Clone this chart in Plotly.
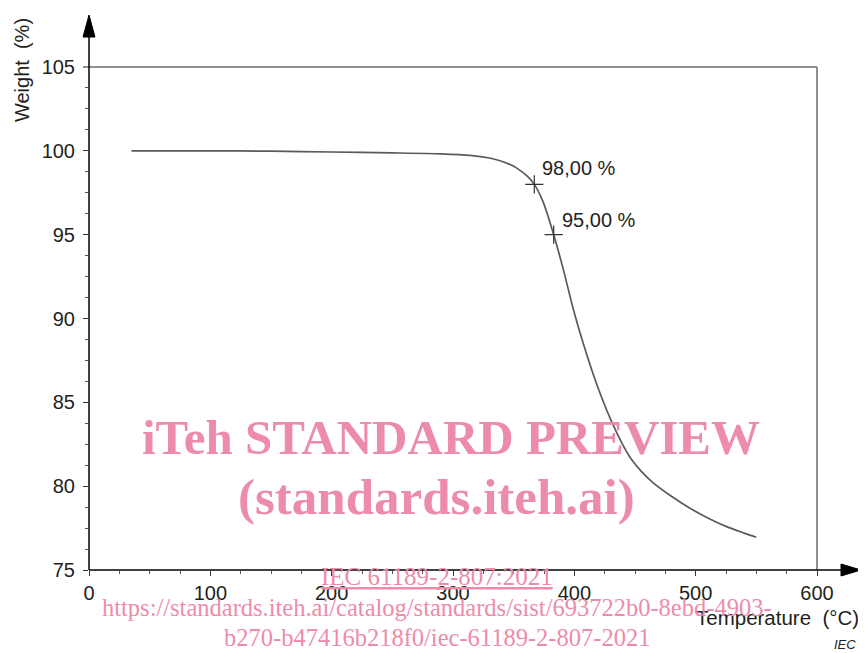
import plotly.graph_objects as go

# ---- data ----
temperature = [35, 100, 150, 200, 250, 290, 314, 330, 340, 350, 355, 361, 367, 374, 383, 391,
               399, 407, 415, 423, 431, 439, 447, 455, 465, 480, 495, 510, 525, 540, 550]
weight = [100.0, 100.0, 99.98, 99.93, 99.88, 99.82, 99.73, 99.57, 99.38, 99.08, 98.85, 98.5,
          98.0, 97.0, 95.0, 92.9, 90.6, 88.6, 86.8, 85.2, 83.8, 82.6, 81.6, 80.9, 80.2,
          79.4, 78.7, 78.1, 77.6, 77.2, 76.95]
mark_temp = [367, 383]
mark_weight = [98.0, 95.0]
mark_labels = ["98,00 %", "95,00 %"]
x_ticks = [0, 100, 200, 300, 400, 500, 600]
y_ticks = [75, 80, 85, 90, 95, 100, 105]

FONT = "Liberation Sans, Arial, sans-serif"
SERIF = "Liberation Serif, Times New Roman, serif"
TXT = "#231f20"
PINK = "#ED8CAA"

fig = go.Figure()
fig.add_trace(go.Scatter(x=temperature, y=weight, mode="lines",
                         line=dict(color="#5a5a5a", width=1.7, shape="spline", smoothing=0.8),
                         hoverinfo="skip", showlegend=False))
fig.add_trace(go.Scatter(x=mark_temp, y=mark_weight, mode="markers",
                         marker=dict(symbol="cross-thin", size=13,
                                     line=dict(color="#333333", width=1.2)),
                         showlegend=False))

for xv, yv, lab in zip(mark_temp, mark_weight, mark_labels):
    fig.add_annotation(x=xv, y=yv, text=lab, showarrow=False, xref="x", yref="y",
                       xanchor="left", yanchor="middle", xshift=6, yshift=16 if yv > 96 else 15,
                       font=dict(family=FONT, size=20, color=TXT))

# frame (gray) top and right
fig.add_shape(type="line", xref="paper", yref="paper", x0=-0.008, x1=1, y0=1, y1=1,
              line=dict(color="#8f8f8f", width=2))
fig.add_shape(type="line", xref="paper", yref="paper", x0=1, x1=1, y0=0, y1=1,
              line=dict(color="#8f8f8f", width=2))
# axis lines with arrows
fig.add_shape(type="line", xref="paper", yref="paper", x0=0, x1=0, y0=0, y1=1.07,
              line=dict(color="black", width=1.5))
fig.add_shape(type="line", xref="paper", yref="paper", x0=0, x1=1.04, y0=0, y1=0,
              line=dict(color="black", width=1.5))
fig.add_shape(type="path", xref="paper", yref="paper",
              path="M -0.0082,1.0596 L 0.0082,1.0596 L 0,1.1034 Z",
              fillcolor="black", line=dict(color="black", width=1))
fig.add_shape(type="path", xref="paper", yref="paper",
              path="M 1.033,-0.0119 L 1.033,0.0119 L 1.0604,0 Z",
              fillcolor="black", line=dict(color="black", width=1))


def note(x, y, text, size, family=FONT, color=TXT, angle=0):
    fig.add_annotation(x=x, y=y, xref="paper", yref="paper", text=text, textangle=angle,
                       showarrow=False, xanchor="center", yanchor="middle",
                       font=dict(family=family, size=size, color=color))


# axis titles
note(-0.092, 0.994, "Weight  (%)", 20, angle=-90)
note(0.946, -0.0954, "Temperature  (°C)", 20.5)
note(1.038, -0.149, "<i>IEC</i>", 13)

# watermark texts
note(0.497, 0.2644, "<b>iTeh STANDARD PREVIEW</b>", 49, SERIF, PINK)
note(0.478, 0.145, "<b>(standards.iteh.ai)</b>", 51, SERIF, PINK)
note(0.478, -0.0139, "<u>IEC 61189-2-807:2021</u>", 25, SERIF, PINK)
note(0.478, -0.0755, "https://standards.iteh.ai/catalog/standards/sist/693722b0-8ebd-4903-", 24.5, SERIF, PINK)
note(0.478, -0.135, "b270-b47416b218f0/iec-61189-2-807-2021", 24.5, SERIF, PINK)

fig.update_xaxes(range=[0, 600], tickvals=x_ticks, ticks="outside", ticklen=5, tickwidth=1.2,
                 tickcolor="#333", showgrid=False, zeroline=False, showline=False,
                 tickfont=dict(family=FONT, size=20, color=TXT),
                 minor=dict(dtick=25, tick0=0, ticks="outside", ticklen=3, tickcolor="#555", showgrid=False))
fig.update_yaxes(range=[75, 105], tickvals=y_ticks, ticks="outside", ticklen=5, tickwidth=1.2,
                 tickcolor="#333", showgrid=False, zeroline=False, showline=False,
                 ticklabelstandoff=4,
                 tickfont=dict(family=FONT, size=20, color=TXT),
                 minor=dict(dtick=1.25, tick0=75, ticks="outside", ticklen=3, tickcolor="#555", showgrid=False))

fig.update_layout(width=866, height=653, margin=dict(l=81, r=57, t=59, b=91),
                  plot_bgcolor="white", paper_bgcolor="white", showlegend=False)

fig.write_html("out.html")
